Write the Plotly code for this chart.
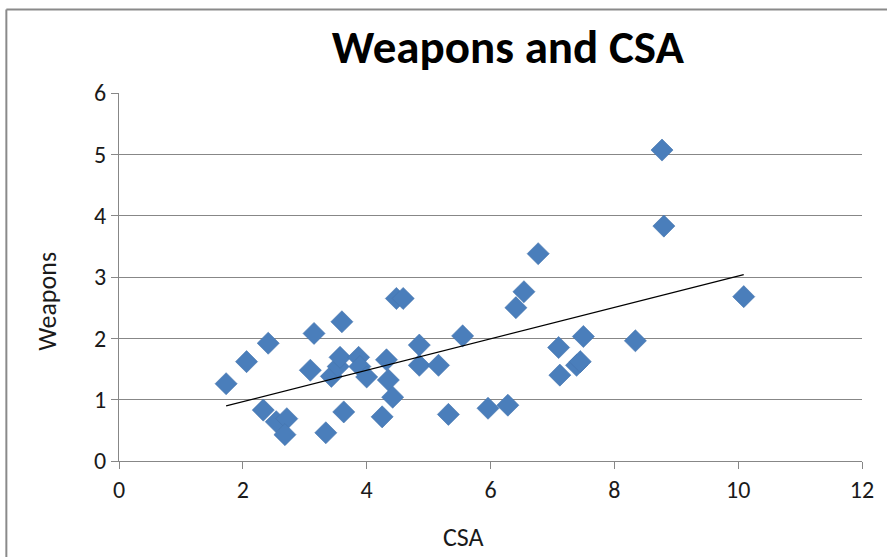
import numpy as np
import plotly.graph_objects as go

csa = [1.73, 2.06, 2.41, 2.33, 2.54, 2.71, 2.68, 3.09, 3.15, 3.34, 3.43, 3.54, 3.57, 3.60,
       3.63, 3.87, 3.89, 4.00, 4.25, 4.32, 4.35, 4.42, 4.48, 4.59, 4.85, 4.85, 5.16, 5.32,
       5.55, 5.96, 6.28, 6.41, 6.54, 6.77, 7.10, 7.12, 7.39, 7.45, 7.50, 8.34, 8.77, 8.80, 10.09]
weapons = [1.26, 1.62, 1.92, 0.83, 0.64, 0.69, 0.43, 1.48, 2.08, 0.46, 1.38, 1.54, 1.69, 2.27,
           0.80, 1.69, 1.54, 1.37, 0.72, 1.65, 1.32, 1.04, 2.65, 2.65, 1.89, 1.56, 1.56, 0.76,
           2.04, 0.86, 0.91, 2.50, 2.76, 3.38, 1.85, 1.40, 1.56, 1.62, 2.03, 1.96, 5.07, 3.83, 2.68]

x_ticks = [0, 2, 4, 6, 8, 10, 12]
y_ticks = [0, 1, 2, 3, 4, 5, 6]

slope, intercept = np.polyfit(csa, weapons, 1)
tx = [min(csa), max(csa)]
ty = [slope * v + intercept for v in tx]

W, H = 887, 557
L, R, T, B = 119.3, 862.0, 93.3, 460.7

font_fam = "Carlito, Calibri, Lato, sans-serif"
txt = "#1a1a1a"

fig = go.Figure()
fig.add_trace(go.Scatter(x=csa, y=weapons, mode="markers",
                         marker=dict(symbol="diamond", size=17, color="#4a7ebb",
                                     line=dict(width=0.6, color="#4473ad")),
                         showlegend=False, hoverinfo="x+y"))
fig.add_trace(go.Scatter(x=tx, y=ty, mode="lines", line=dict(color="black", width=1.2),
                         showlegend=False, hoverinfo="skip"))

def px2paper_x(p):
    return (p - L) / (R - L)

def px2paper_y(p):
    return (B - p) / (B - T)

fig.update_layout(
    width=W, height=H,
    margin=dict(l=L, r=W - R, t=T, b=H - B, pad=0),
    paper_bgcolor="white", plot_bgcolor="white",
    font=dict(family=font_fam, color=txt),
    xaxis=dict(range=[0, 12], tickvals=x_ticks, showgrid=False, zeroline=False,
               showline=True, linecolor="#878787", linewidth=1.2,
               ticks="outside", ticklen=7, tickcolor="#878787", tickwidth=1.2,
               tickfont=dict(size=24, family=font_fam, color=txt)),
    yaxis=dict(range=[0, 6], tickvals=y_ticks, showgrid=True, gridcolor="#878787",
               gridwidth=1.2, zeroline=False,
               showline=True, linecolor="#878787", linewidth=1.2,
               ticks="outside", ticklen=7, tickcolor="#878787", tickwidth=1.2,
               tickfont=dict(size=24, family=font_fam, color=txt)),
    title=dict(text="<b>Weapons and CSA</b>", x=px2paper_x(508), xref="paper",
               xanchor="center", y=1 - 47 / H, yref="container", yanchor="middle",
               font=dict(size=47, family=font_fam, color="black")),
    annotations=[
        dict(text="CSA", xref="paper", yref="paper", x=px2paper_x(464), y=px2paper_y(537),
             xanchor="center", yanchor="middle", showarrow=False,
             font=dict(size=26, family=font_fam, color=txt)),
        dict(text="Weapons", xref="paper", yref="paper", x=px2paper_x(47), y=px2paper_y(301),
             xanchor="center", yanchor="middle", showarrow=False, textangle=-90,
             font=dict(size=26, family=font_fam, color=txt)),
    ],
    shapes=[
        dict(type="line", xref="paper", yref="paper",
             x0=px2paper_x(6.7), x1=px2paper_x(6.7), y0=px2paper_y(10), y1=px2paper_y(H + 5),
             line=dict(color="#8a8a8a", width=2)),
        dict(type="line", xref="paper", yref="paper",
             x0=px2paper_x(6.7), x1=px2paper_x(W + 5), y0=px2paper_y(10), y1=px2paper_y(10),
             line=dict(color="#8a8a8a", width=2)),
    ],
)

fig.write_html("out.html")
